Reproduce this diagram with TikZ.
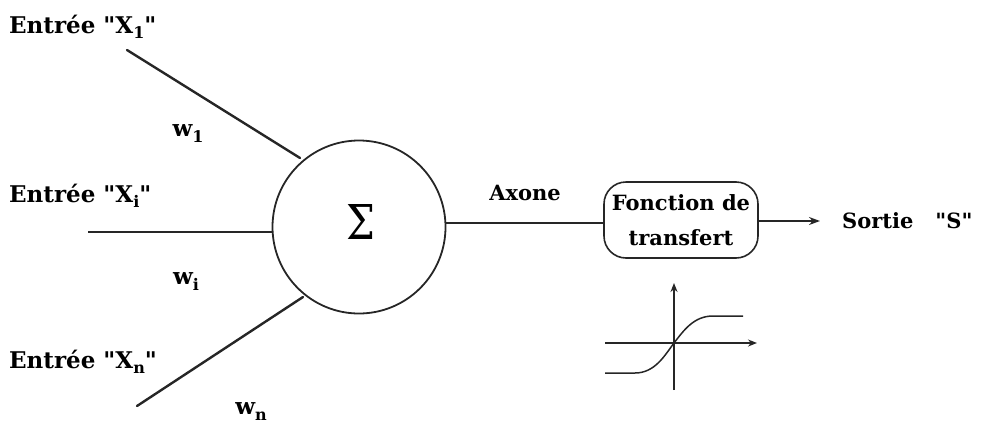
\documentclass[tikz,border=0pt]{standalone}
\usepackage{fontspec}
\setmainfont{DejaVu Serif}[Ligatures=TeXOff]
\usetikzlibrary{arrows.meta}

% lowered subscript used in the labels
\newcommand{\lowsub}[1]{\raisebox{-0.5ex}{\fontsize{16}{16}\selectfont #1}}

\begin{document}
\begin{tikzpicture}[x=1pt,y=-1pt,
  wire/.style={line width=2.4pt,draw=black!85},
  thin wire/.style={line width=1.6pt,draw=black!85},
  inlabel/.style={anchor=base west,inner sep=0pt,font=\fontsize{23}{24}\selectfont\bfseries},
  weight/.style={inner sep=0pt,font=\fontsize{23}{23}\selectfont\bfseries},
  textlabel/.style={inner sep=0pt,font=\fontsize{21}{22}\selectfont\bfseries},
  transferbox/.style={draw=black!85,line width=1.6pt,rounded corners=22pt,
    minimum width=154pt,minimum height=76pt,align=center,inner sep=0pt,
    font=\fontsize{21}{35}\selectfont\bfseries},
  axis/.style={line width=1.5pt,draw=black!85,-{Stealth[length=9pt,width=7pt]}}]

\useasboundingbox (0,0) rectangle (982,426);

% summing neuron
\node[circle,draw=black!85,line width=1.8pt,minimum size=173pt,inner sep=0pt] (sum) at (359,227) {};
\node[inner sep=0pt,font=\fontsize{48}{48}\selectfont,xscale=0.85] (sigma) at (361,222) {Σ};

% inputs
\node[inlabel] (l1) at (9,33) {Entrée "X\lowsub{1}"};
\node[inlabel] (li) at (9,202) {Entrée "X\lowsub{i}"};
\node[inlabel] (ln) at (9,368) {Entrée "X\lowsub{n}"};

\coordinate (s1) at (127,50);
\coordinate (si) at (88,232);
\coordinate (sn) at (137,406);
\coordinate (e1) at (300,158);
\coordinate (ei) at (273,232);
\coordinate (en) at (303,297);
\draw[wire,line cap=round] (s1) -- (e1);
\draw[thin wire] (si) -- (ei);
\draw[wire,line cap=round] (sn) -- (en);

% weights
\node[weight] (w1) at (188,134) {w\lowsub{1}};
\node[weight] (wi) at (186,282) {w\lowsub{i}};
\node[weight] (wn) at (251,412) {w\lowsub{n}};

% axon and transfer function
\node[transferbox] (tf) at (681,220) {Fonction de\\transfert};
\node[textlabel] (axone) at (525,193) {Axone};
\draw[thin wire] (sum.east |- 0,223) -- (tf.west |- 0,223);

% output
\coordinate (out) at (820,221);
\draw[thin wire,-{Stealth[length=11pt,width=8pt]}] (tf.east |- out) -- (out);
\node[textlabel,anchor=west] (sortie) at (842,221) {Sortie\hspace{22pt}"S"};

% sigmoid sketch
\coordinate (o) at (674,343);
\coordinate (vtop) at (674,283);
\coordinate (vbot) at (674,390);
\coordinate (hl) at (605,343);
\coordinate (hr) at (757,343);
\draw[axis] (vbot) -- (vtop);
\draw[axis] (hl) -- (hr);
\draw[line width=1.5pt,draw=black!85]
  (605,373) -- (635,373)
  .. controls (655,373) and (665,355) .. (o)
  .. controls (684,330) and (694,316) .. (713,316) -- (743,316);
\end{tikzpicture}
\end{document}
